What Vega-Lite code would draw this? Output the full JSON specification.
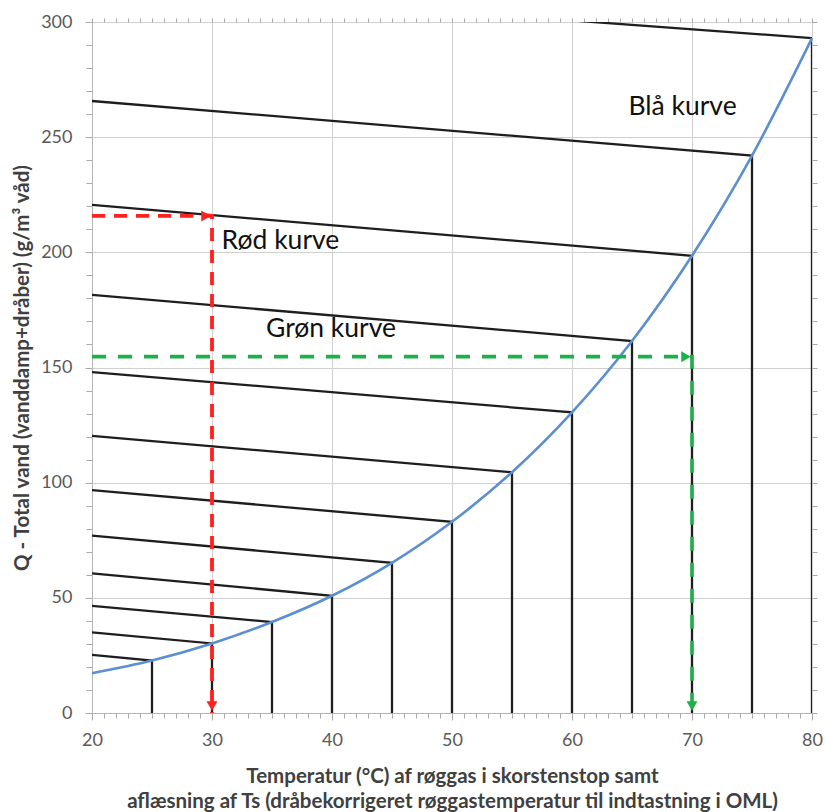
{
  "$schema": "https://vega.github.io/schema/vega-lite/v6.json",
  "autosize": {"type": "none"},
  "width": 720,
  "height": 691,
  "padding": {"left": 92, "top": 22, "right": 14, "bottom": 99},
  "background": "white",
  "config": {"view": {"stroke": null}},
  "datasets": {
    "curve": [
      {"T": 20, "Q": 17.3}, {"T": 25, "Q": 22.8}, {"T": 30, "Q": 30.2}, {"T": 35, "Q": 39.5},
      {"T": 40, "Q": 50.9}, {"T": 45, "Q": 65.2}, {"T": 50, "Q": 83}, {"T": 55, "Q": 104.5},
      {"T": 60, "Q": 130.5}, {"T": 65, "Q": 161.5}, {"T": 70, "Q": 198.5}, {"T": 75, "Q": 242},
      {"T": 80, "Q": 293}
    ],
    "black": [
      {"g": 25, "s": 1, "T": 20, "Q": 25.2}, {"g": 25, "s": 2, "T": 25, "Q": 22.8}, {"g": 25, "s": 3, "T": 25, "Q": 0},
      {"g": 30, "s": 1, "T": 20, "Q": 35}, {"g": 30, "s": 2, "T": 30, "Q": 30.2}, {"g": 30, "s": 3, "T": 30, "Q": 0},
      {"g": 35, "s": 1, "T": 20, "Q": 46.5}, {"g": 35, "s": 2, "T": 35, "Q": 39.5}, {"g": 35, "s": 3, "T": 35, "Q": 0},
      {"g": 40, "s": 1, "T": 20, "Q": 60.6}, {"g": 40, "s": 2, "T": 40, "Q": 50.9}, {"g": 40, "s": 3, "T": 40, "Q": 0},
      {"g": 45, "s": 1, "T": 20, "Q": 77}, {"g": 45, "s": 2, "T": 45, "Q": 65.2}, {"g": 45, "s": 3, "T": 45, "Q": 0},
      {"g": 50, "s": 1, "T": 20, "Q": 96.8}, {"g": 50, "s": 2, "T": 50, "Q": 83}, {"g": 50, "s": 3, "T": 50, "Q": 0},
      {"g": 55, "s": 1, "T": 20, "Q": 120.3}, {"g": 55, "s": 2, "T": 55, "Q": 104.5}, {"g": 55, "s": 3, "T": 55, "Q": 0},
      {"g": 60, "s": 1, "T": 20, "Q": 148}, {"g": 60, "s": 2, "T": 60, "Q": 130.5}, {"g": 60, "s": 3, "T": 60, "Q": 0},
      {"g": 65, "s": 1, "T": 20, "Q": 181.5}, {"g": 65, "s": 2, "T": 65, "Q": 161.5}, {"g": 65, "s": 3, "T": 65, "Q": 0},
      {"g": 70, "s": 1, "T": 20, "Q": 220.6}, {"g": 70, "s": 2, "T": 70, "Q": 198.5}, {"g": 70, "s": 3, "T": 70, "Q": 0},
      {"g": 75, "s": 1, "T": 20, "Q": 265.7}, {"g": 75, "s": 2, "T": 75, "Q": 242}, {"g": 75, "s": 3, "T": 75, "Q": 0},
      {"g": 80, "s": 1, "T": 20, "Q": 316}, {"g": 80, "s": 2, "T": 80, "Q": 293}, {"g": 80, "s": 3, "T": 80, "Q": 0}
    ],
    "red": [
      {"s": 1, "T": 20, "Q": 215.8}, {"s": 2, "T": 30, "Q": 215.8}, {"s": 3, "T": 30, "Q": 0}
    ],
    "green": [
      {"s": 1, "T": 20, "Q": 154.7}, {"s": 2, "T": 70, "Q": 154.7}, {"s": 3, "T": 70, "Q": 0}
    ],
    "arrows": [
      {"series": "red", "dir": "right", "T": 29.5, "Q": 215.8},
      {"series": "red", "dir": "down", "T": 30, "Q": 3},
      {"series": "green", "dir": "right", "T": 69.5, "Q": 154.7},
      {"series": "green", "dir": "down", "T": 70, "Q": 3}
    ],
    "labels": [
      {"label": "Blå kurve", "T": 64.7, "Q": 263},
      {"label": "Rød kurve", "T": 30.8, "Q": 205},
      {"label": "Grøn kurve", "T": 34.5, "Q": 166.7}
    ]
  },
  "resolve": {"axis": {"x": "independent", "y": "independent"}},
  "layer": [
    {
      "data": {"name": "black"},
      "mark": {"type": "line", "color": "#1e1e1e", "strokeWidth": 2.3, "clip": true},
      "encoding": {
        "x": {"field": "T", "type": "quantitative", "scale": {"domain": [20, 80], "nice": false, "zero": false},
          "axis": {"orient": "bottom", "values": [20,21,22,23,24,25,26,27,28,29,30,31,32,33,34,35,36,37,38,39,40,41,42,43,44,45,46,47,48,49,50,51,52,53,54,55,56,57,58,59,60,61,62,63,64,65,66,67,68,69,70,71,72,73,74,75,76,77,78,79,80],
            "labels": false, "grid": false, "domain": false, "tickSize": 5, "tickWidth": 1, "tickColor": "#a8a8a8", "title": null}},
        "y": {"field": "Q", "type": "quantitative", "scale": {"domain": [0, 300], "nice": false},
          "axis": {"orient": "left", "values": [0,10,20,30,40,50,60,70,80,90,100,110,120,130,140,150,160,170,180,190,200,210,220,230,240,250,260,270,280,290,300],
            "labels": false, "grid": false, "domain": false, "tickSize": 6, "tickWidth": 1, "tickColor": "#a8a8a8", "title": null}},
        "detail": {"field": "g", "type": "nominal"},
        "order": {"field": "s", "type": "quantitative"}
      }
    },
    {
      "data": {"name": "curve"},
      "mark": {"type": "line", "color": "#5b8fd0", "strokeWidth": 2.6, "interpolate": "monotone"},
      "encoding": {
        "x": {"field": "T", "type": "quantitative",
          "axis": {"orient": "bottom", "values": [20,30,40,50,60,70,80], "grid": true, "gridColor": "#d0d0d0", "gridWidth": 1,
            "domainColor": "#b5b5b5", "tickColor": "#a8a8a8", "tickSize": 7, "labelFont": "Lato", "labelFontSize": 18,
            "labelColor": "#595959", "labelPadding": 11, "labelFlush": false, "labelOverlap": false,
            "title": ["Temperatur (°C) af røggas i skorstenstop samt", "aflæsning af Ts (dråbekorrigeret røggastemperatur til indtastning i OML)"],
            "titleFont": "Lato", "titleFontSize": 20.5, "titleFontWeight": "bold", "titleColor": "#404040", "titlePadding": 17, "titleLineHeight": 25}},
        "y": {"field": "Q", "type": "quantitative",
          "axis": {"orient": "left", "values": [0,50,100,150,200,250,300], "grid": true, "gridColor": "#d0d0d0", "gridWidth": 1,
            "domainColor": "#b5b5b5", "tickColor": "#a8a8a8", "tickSize": 7, "labelFont": "Lato", "labelFontSize": 18,
            "labelColor": "#595959", "labelPadding": 13, "labelOverlap": false,
            "title": "Q - Total vand  (vanddamp+dråber) (g/m³ våd)",
            "titleFont": "Lato", "titleFontSize": 20.5, "titleFontWeight": "bold", "titleColor": "#404040", "titlePadding": 8}}
      }
    },
    {
      "data": {"name": "red"},
      "mark": {"type": "line", "color": "#ff2020", "strokeWidth": 3.8, "strokeDash": [13, 9]},
      "encoding": {
        "x": {"field": "T", "type": "quantitative",
          "axis": {"orient": "top", "values": [20,21,22,23,24,25,26,27,28,29,30,31,32,33,34,35,36,37,38,39,40,41,42,43,44,45,46,47,48,49,50,51,52,53,54,55,56,57,58,59,60,61,62,63,64,65,66,67,68,69,70,71,72,73,74,75,76,77,78,79,80],
            "labels": false, "grid": false, "domain": false, "tickSize": 4, "tickWidth": 1, "tickColor": "#a8a8a8", "title": null}},
        "y": {"field": "Q", "type": "quantitative",
          "axis": {"orient": "right", "values": [0,10,20,30,40,50,60,70,80,90,100,110,120,130,140,150,160,170,180,190,200,210,220,230,240,250,260,270,280,290,300],
            "labels": false, "grid": false, "domain": false, "tickSize": 5, "tickWidth": 1, "tickColor": "#a8a8a8", "title": null}},
        "order": {"field": "s", "type": "quantitative"}
      }
    },
    {
      "data": {"name": "green"},
      "mark": {"type": "line", "color": "#1fb04c", "strokeWidth": 3.6, "strokeDash": [14, 12]},
      "encoding": {
        "x": {"field": "T", "type": "quantitative", "axis": null},
        "y": {"field": "Q", "type": "quantitative", "axis": null},
        "order": {"field": "s", "type": "quantitative"}
      }
    },
    {
      "data": {"name": "arrows"},
      "mark": {"type": "point", "filled": true, "size": 120, "opacity": 1},
      "encoding": {
        "x": {"field": "T", "type": "quantitative", "axis": null},
        "y": {"field": "Q", "type": "quantitative", "axis": null},
        "shape": {"field": "dir", "type": "nominal", "scale": {"domain": ["right", "down"], "range": ["triangle-right", "triangle-down"]}, "legend": null},
        "color": {"field": "series", "type": "nominal", "scale": {"domain": ["red", "green"], "range": ["#ff2020", "#1fb04c"]}, "legend": null}
      }
    },
    {
      "data": {"name": "labels"},
      "mark": {"type": "text", "align": "left", "baseline": "middle", "font": "Lato", "fontSize": 26.5, "color": "#111111"},
      "encoding": {
        "x": {"field": "T", "type": "quantitative", "axis": null},
        "y": {"field": "Q", "type": "quantitative", "axis": null},
        "text": {"field": "label", "type": "nominal"}
      }
    }
  ]
}
